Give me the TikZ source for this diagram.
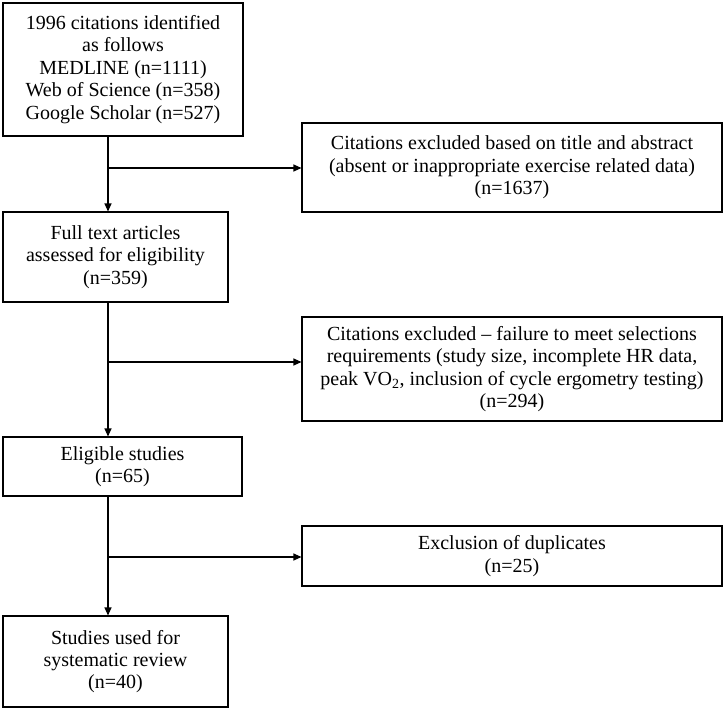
\documentclass[tikz,border=0pt]{standalone}
\usepackage{fontspec}
\setmainfont{Liberation Serif}
\usetikzlibrary{arrows.meta}

\begin{document}
\begin{tikzpicture}[x=1pt,y=1pt,
	box/.style={draw,line width=1.1pt,align=center,inner sep=0pt,
		font=\fontsize{20}{22.4}\selectfont},
	flow/.style={line width=1.1pt,-{Triangle[length=8pt,width=7pt]}}]
	\path[use as bounding box] (0,0) rectangle (724,-709);
	% left column
	\node[box,minimum width=240,minimum height=133] (cited) at (123,-69.5)
		{1996 citations identified\\ as follows\\ MEDLINE (n=1111)\\ Web of Science (n=358)\\ Google Scholar (n=527)};
	\node[box,minimum width=225,minimum height=90] (fulltext) at (115.5,-257)
		{Full text articles\\ assessed for eligibility\\ (n=359)};
	\node[box,minimum width=239,minimum height=59] (eligible) at (122.5,-466.5)
		{Eligible studies\\ (n=65)};
	\node[box,minimum width=225,minimum height=91] (review) at (115.5,-661.5)
		{Studies used for\\ systematic review\\ (n=40)};
	% right column
	\node[box,minimum width=420,minimum height=89] (exTitle) at (512,-167.5)
		{Citations excluded based on title and abstract\\ (absent or inappropriate exercise related data)\\ (n=1637)};
	\node[box,minimum width=420,minimum height=104] (exSel) at (512,-369)
		{Citations excluded -- failure to meet selections\\ requirements (study size, incomplete HR data,\\ peak VO\textsubscript{2}, inclusion of cycle ergometry testing)\\ (n=294)};
	\node[box,minimum width=420,minimum height=60] (exDup) at (512,-556)
		{Exclusion of duplicates\\ (n=25)};
	% spine and branch points
	\coordinate (spine) at (108,0);
	\coordinate (j1) at (108,-168);
	\coordinate (j2) at (108,-362);
	\coordinate (j3) at (108,-557);
	\draw[flow] (cited.south -| spine) -- (fulltext.north -| spine);
	\draw[flow] (fulltext.south -| spine) -- (eligible.north -| spine);
	\draw[flow] (eligible.south -| spine) -- (review.north -| spine);
	\draw[flow] (j1) -- (j1 -| exTitle.west);
	\draw[flow] (j2) -- (j2 -| exSel.west);
	\draw[flow] (j3) -- (j3 -| exDup.west);
\end{tikzpicture}
\end{document}
